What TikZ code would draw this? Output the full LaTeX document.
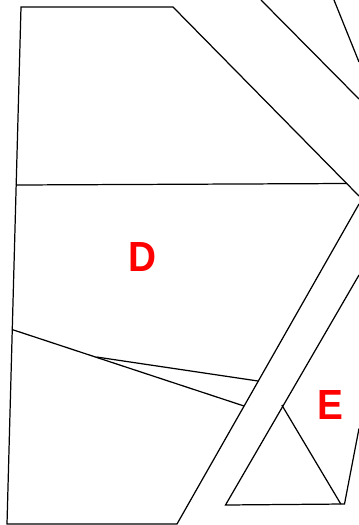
\documentclass[tikz,border=0pt]{standalone}
\usepackage{fontspec}
\setmainfont{Liberation Sans}
\usepackage{xcolor}
\begin{document}
\begin{tikzpicture}[x=0.02cm,y=-0.02cm]
\tikzset{edge/.style={black, line width=0.7pt, line join=miter},
    zonelabel/.style={font=\fontsize{24pt}{24pt}\selectfont\bfseries, text=red, inner sep=0pt}}
\useasboundingbox (0,0) rectangle (359,525);

% Block D, outline
\draw[edge] (359,196) -- (173,7) -- (21,7) -- (7,524) -- (177,524) -- (359,204);

% Block D, inner lines
\draw[edge] (16,185) -- (347,183.5);
\draw[edge] (12,329.5) -- (244,406);
\draw[edge] (96.5,357) -- (258,381);

% Block E
\draw[edge] (359,275) -- (225.5,505) -- (344.5,504) -- (359,428.5);
\draw[edge] (281.8,405) -- (340.8,504);

% Top right corner
\draw[edge] (261,0) -- (359,99);
\draw[edge] (334,0) -- (359,62);

% Labels
\node[zonelabel] (labelD) at (143,256.5) {\scalebox{0.92}[1]{D}};
\node[zonelabel] (labelE) at (330,405) {\scalebox{0.92}[1]{E}};
\end{tikzpicture}
\end{document}
